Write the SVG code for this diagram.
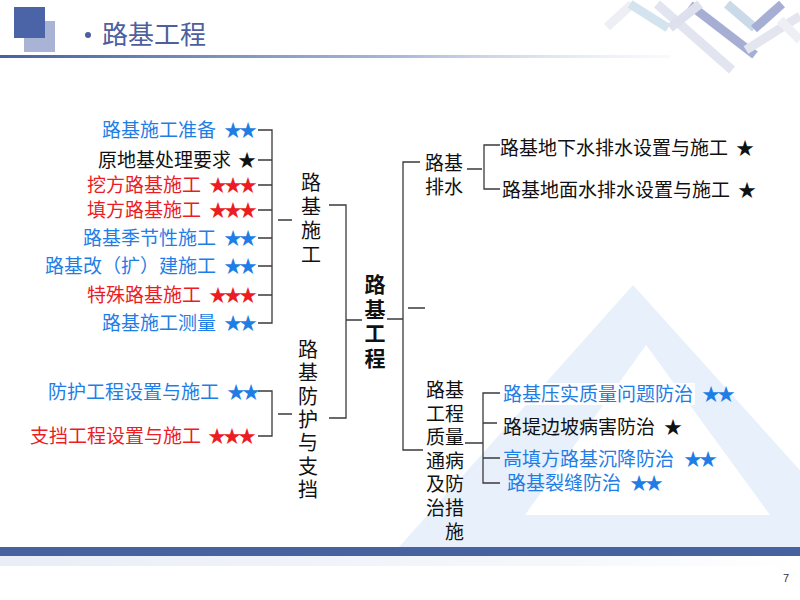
<svg xmlns="http://www.w3.org/2000/svg" width="800" height="600" viewBox="0 0 800 600">
<defs>
<style>
.t{font-family:"Noto Sans CJK SC","Liberation Sans",sans-serif;font-size:19px}
.v{font-family:"Noto Sans CJK SC","Liberation Sans",sans-serif;font-size:20px;fill:#111;text-anchor:middle}
.bold{font-weight:bold;font-size:21px}
.s{font-family:"Noto Sans CJK SC",sans-serif;font-size:18px;letter-spacing:-3px}
.blue{fill:#1e7ee6}
.red{fill:#ec1c24}
.blk{fill:#111}
.ln{stroke:#3a3a3a;stroke-width:1.3;fill:none}
.deco{fill:none;stroke-width:9;stroke-linecap:butt}
</style>
<linearGradient id="hl" x1="0" y1="0" x2="1" y2="0">
<stop offset="0" stop-color="#4661a2"/>
<stop offset="0.6" stop-color="#a9b9d8"/>
<stop offset="1" stop-color="#e6edf6" stop-opacity="0.3"/>
</linearGradient>
<linearGradient id="fl" x1="0" y1="0" x2="1" y2="0">
<stop offset="0" stop-color="#e9eef6"/>
<stop offset="0.7" stop-color="#f5f7fb"/>
<stop offset="1" stop-color="#ffffff"/>
</linearGradient>
</defs>
<rect width="800" height="600" fill="#fff"/>

<g id="background">
<path d="M633,285 L870,548 L398,548 Z M646,345 L525,515 L770,515 Z" fill="#e8f1fb" fill-rule="evenodd"/>
</g>

<g id="header">
<rect x="24" y="21" width="31" height="31" fill="#a8b3d5"/>
<rect x="14" y="7" width="31" height="31" fill="#4b63a7"/>
<circle cx="88" cy="35" r="3" fill="#4d5f9e"/>
<text x="102" y="44" font-family="Noto Sans CJK SC, sans-serif" font-size="26" fill="#4d5f9e">路基工程</text>
<rect x="0" y="55" width="670" height="3" fill="url(#hl)"/>
<g id="deco" opacity="0.6">
<line class="deco" x1="607" y1="27" x2="632" y2="4" stroke="#e2e6ee"/>
<line class="deco" x1="630" y1="4" x2="668" y2="28" stroke="#b9d3e6"/>
<line class="deco" x1="657" y1="4" x2="732" y2="70" stroke="#cfd4e6"/>
<line class="deco" x1="690" y1="5" x2="755" y2="55" stroke="#6e7ab8"/>
<line class="deco" x1="727" y1="4" x2="755" y2="28" stroke="#a7c3dc"/>
<line class="deco" x1="754" y1="29" x2="782" y2="4" stroke="#6e7ab8"/>
<line class="deco" x1="746" y1="50" x2="800" y2="16" stroke="#d2d6e6"/>
<line class="deco" x1="780" y1="20" x2="800" y2="40" stroke="#e2e6ee"/>
<line class="deco" x1="670" y1="28" x2="700" y2="4" stroke="#c8cce2"/>
</g>
</g>

<g id="footer">
<rect x="0" y="547" width="800" height="9" fill="#46629f"/>
<rect x="0" y="556" width="800" height="10" fill="url(#fl)"/>
<text x="786" y="582" font-family="Liberation Sans, sans-serif" font-size="11" fill="#333" text-anchor="middle">7</text>
</g>

<g id="connectors">
<path class="ln" d="M258,130 H272 V323 H258 M258,160 H272 M258,185 H272 M258,210 H272 M258,238 H272 M258,266 H272 M258,295 H272 M278,220 H292"/>
<path class="ln" d="M258,391 H272 V436 H258 M278,414 H292"/>
<path class="ln" d="M329,205 H346 V418 H329 M346,320 H362"/>
<path class="ln" d="M387,319 H403 M420,162 H403 V450 H423 M408,308 H425"/>
<path class="ln" d="M467,169 H482 M500,145 H484 V189 H500"/>
<path class="ln" d="M465,443 H483 M500,393 H483 V483 H500 M483,423 H497 M483,458 H500"/>
</g>

<g id="left-items">
<g id="n1"><text class="t blue" x="216" y="137" text-anchor="end">路基施工准备</text><text class="s blue" x="224" y="137">★★</text></g>
<g id="n2"><text class="t blk" x="231" y="167" text-anchor="end">原地基处理要求</text><text class="s blk" x="238" y="167">★</text></g>
<g id="n3"><text class="t red" x="201" y="192" text-anchor="end">挖方路基施工</text><text class="s red" x="209" y="192">★★★</text></g>
<g id="n4"><text class="t red" x="201" y="217" text-anchor="end">填方路基施工</text><text class="s red" x="209" y="217">★★★</text></g>
<g id="n5"><text class="t blue" x="216" y="245" text-anchor="end">路基季节性施工</text><text class="s blue" x="224" y="245">★★</text></g>
<g id="n6"><text class="t blue" x="216" y="273" text-anchor="end">路基改（扩）建施工</text><text class="s blue" x="224" y="273">★★</text></g>
<g id="n7"><text class="t red" x="201" y="302" text-anchor="end">特殊路基施工</text><text class="s red" x="209" y="302">★★★</text></g>
<g id="n8"><text class="t blue" x="216" y="330" text-anchor="end">路基施工测量</text><text class="s blue" x="224" y="330">★★</text></g>
<g id="n9"><text class="t blue" x="219" y="399" text-anchor="end">防护工程设置与施工</text><text class="s blue" x="227" y="399">★★</text></g>
<g id="n10"><text class="t red" x="201" y="443" text-anchor="end">支挡工程设置与施工</text><text class="s red" x="208" y="443">★★★</text></g>
</g>

<g id="sub-construction">
<text class="v" x="311" y="190">路<tspan x="311" dy="24">基</tspan><tspan x="311" dy="24">施</tspan><tspan x="311" dy="24">工</tspan></text>
</g>
<g id="sub-protection">
<text class="v" x="308" y="357">路<tspan x="308" dy="23.3">基</tspan><tspan x="308" dy="23.3">防</tspan><tspan x="308" dy="23.3">护</tspan><tspan x="308" dy="23.3">与</tspan><tspan x="308" dy="23.3">支</tspan><tspan x="308" dy="23.3">挡</tspan></text>
</g>
<g id="root">
<text class="v bold" x="375" y="292">路<tspan x="375" dy="24.5">基</tspan><tspan x="375" dy="24.5">工</tspan><tspan x="375" dy="24.5">程</tspan></text>
</g>
<g id="sub-drainage">
<text class="t blk" x="425" y="170">路基<tspan x="425" dy="24">排水</tspan></text>
</g>
<g id="sub-quality">
<text class="t blk" x="426" y="397">路基<tspan x="426" dy="23.6">工程</tspan><tspan x="426" dy="23.6">质量</tspan><tspan x="426" dy="23.6">通病</tspan><tspan x="426" dy="23.6">及防</tspan><tspan x="426" dy="23.6">治措</tspan><tspan x="445" dy="23.6">施</tspan></text>
</g>

<g id="right-items">
<g id="d1"><text class="t blk" x="500" y="155">路基地下水排水设置与施工</text><text class="s blk" x="736" y="155">★</text></g>
<g id="d2"><text class="t blk" x="502" y="197">路基地面水排水设置与施工</text><text class="s blk" x="738" y="197">★</text></g>
<g id="q1"><rect x="501" y="383" width="194" height="22" fill="#fff"/><text class="t blue" x="503" y="401">路基压实质量问题防治</text><text class="s blue" x="702" y="401">★★</text></g>
<g id="q2"><text class="t blk" x="503" y="434">路堤边坡病害防治</text><text class="s blk" x="664" y="434">★</text></g>
<g id="q3"><text class="t blue" x="503" y="466">高填方路基沉降防治</text><text class="s blue" x="684" y="466">★★</text></g>
<g id="q4"><text class="t blue" x="507" y="490">路基裂缝防治</text><text class="s blue" x="630" y="490">★★</text></g>
</g>
</svg>
